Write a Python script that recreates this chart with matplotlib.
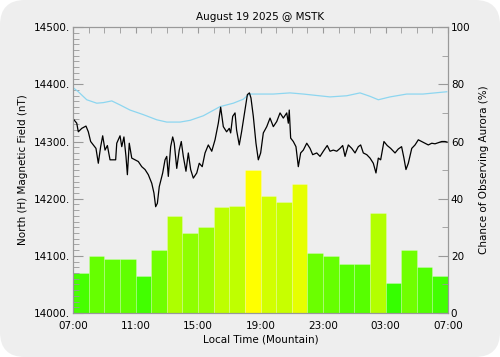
import numpy as np
import matplotlib
matplotlib.use("Agg")
import matplotlib.pyplot as plt
from matplotlib.patches import FancyBboxPatch
from matplotlib.ticker import MultipleLocator

# Donnees (heures depuis 07:00 locale)
aurora_pct = [14, 20, 19, 19, 13, 22, 34, 28, 30, 37, 37.5, 50,
              41, 39, 45, 21, 20, 17, 17, 35, 10.5, 22, 16, 13]

mag_hours = [0.06, 0.24, 0.34, 0.56, 0.83, 0.98, 1.13, 1.30, 1.47, 1.62, 1.77, 1.90,
             2.05, 2.20, 2.37, 2.73, 2.80, 3.01, 3.12, 3.26, 3.39, 3.48, 3.60, 3.76,
             3.97, 4.18, 4.40, 4.61, 4.82, 5.04, 5.18, 5.29, 5.40, 5.52, 5.74, 5.89,
             6.00, 6.10, 6.25, 6.38, 6.48, 6.64, 6.80, 6.93, 7.06, 7.23, 7.38, 7.53,
             7.70, 7.92, 8.08, 8.27, 8.45, 8.66, 8.88, 9.09, 9.30, 9.45, 9.62, 9.83,
             10.00, 10.09, 10.22, 10.37, 10.47, 10.64, 10.79, 11.01, 11.16, 11.29, 11.39, 11.54,
             11.71, 11.86, 12.01, 12.18, 12.40, 12.61, 12.82, 13.04, 13.25, 13.46, 13.68, 13.78,
             13.84, 13.93, 14.10, 14.27, 14.42, 14.57, 14.74, 14.96, 15.17, 15.34, 15.60, 15.81,
             16.02, 16.27, 16.45, 16.66, 16.88, 17.09, 17.26, 17.41, 17.62, 17.84, 18.05, 18.26,
             18.41, 18.58, 18.80, 19.01, 19.22, 19.39, 19.54, 19.69, 19.90, 20.11, 20.33, 20.61,
             20.82, 21.03, 21.18, 21.31, 21.46, 21.68, 21.89, 22.10, 22.31, 22.53, 22.74, 22.96,
             23.17, 23.38, 23.60, 23.81, 23.94]
mag_nt = [14338, 14332, 14317, 14323, 14327, 14317, 14300, 14294, 14288, 14262, 14291, 14310,
          14285, 14293, 14268, 14268, 14297, 14310, 14291, 14308, 14274, 14242, 14297, 14271,
          14268, 14265, 14256, 14251, 14242, 14227, 14210, 14186, 14192, 14221, 14245, 14268,
          14274, 14239, 14291, 14308, 14297, 14253, 14285, 14300, 14274, 14248, 14280, 14251,
          14236, 14245, 14262, 14256, 14280, 14294, 14283, 14303, 14332, 14360, 14326, 14317,
          14323, 14315, 14344, 14350, 14320, 14294, 14317, 14355, 14382, 14385, 14376, 14344,
          14297, 14268, 14280, 14315, 14326, 14341, 14326, 14335, 14350, 14341, 14350, 14332,
          14355, 14306, 14300, 14291, 14256, 14280, 14285, 14297, 14288, 14277, 14280, 14274,
          14283, 14293, 14283, 14285, 14283, 14288, 14293, 14274, 14294, 14288, 14280, 14291,
          14294, 14280, 14277, 14271, 14262, 14245, 14271, 14268, 14300, 14293, 14288, 14280,
          14287, 14291, 14271, 14251, 14262, 14288, 14294, 14303, 14300, 14297, 14294, 14297,
          14296, 14298, 14300, 14300, 14299]

base_hours = [0.06, 0.34, 0.88, 1.52, 1.94, 2.48, 3.01, 3.65, 4.50, 5.36, 6.00, 6.85,
              7.49, 8.34, 9.41, 10.26, 10.90, 11.28, 11.76, 12.82, 13.89, 14.74, 15.76, 16.45,
              17.52, 18.37, 19.01, 19.54, 20.29, 21.36, 22.40, 23.92]
base_nt = [14393, 14387, 14373, 14367, 14368, 14371, 14364, 14355, 14347, 14338, 14334, 14334,
           14337, 14345, 14361, 14367, 14374, 14383, 14383, 14383, 14385, 14383, 14380, 14378,
           14380, 14385, 14379, 14373, 14378, 14383, 14383, 14387]

xtick_pos = [0, 4, 8, 12, 16, 20, 24]
xtick_lab = ['07:00', '11:00', '15:00', '19:00', '23:00', '03:00', '07:00']

plt.rcParams['font.family'] = 'DejaVu Sans'
fs = 7.5
bg = '#eeeeee'
spine_col = '#999999'

fig = plt.figure(figsize=(5.0, 3.57), dpi=100)
fig.patch.set_facecolor('white')
fig.patches.append(FancyBboxPatch((0.0, 0.0), 1.0, 1.0,
                                  boxstyle='round,pad=0,rounding_size=0.05',
                                  transform=fig.transFigure, facecolor=bg,
                                  edgecolor='none', zorder=-10,
                                  mutation_aspect=500 / 357))

ax = fig.add_axes([0.146, 0.123, 0.75, 0.801])
ax2 = ax.twinx()

# Barres : probabilite d'aurore (axe de droite)
colors = [(min(1.0, v / 50.0), 1.0, 0.0) for v in aurora_pct]
ax2.bar(np.arange(len(aurora_pct)), aurora_pct, width=1.0, align='edge',
        color=colors, edgecolor=(1, 1, 1, 0.25), linewidth=0.6)
ax2.set_ylim(0, 100)
ax2.set_xlim(0, 24)
ax2.yaxis.set_major_locator(MultipleLocator(20))
ax2.yaxis.set_minor_locator(MultipleLocator(10))
ax2.tick_params(axis='y', which='major', direction='in', length=7, color=spine_col,
                labelsize=fs, pad=2)
ax2.tick_params(axis='y', which='minor', direction='in', length=4, color=spine_col)
ax2.set_ylabel('Chance of Observing Aurora (%)', fontsize=fs, labelpad=6)

# Courbes : champ magnetique (axe de gauche)
ax.set_zorder(ax2.get_zorder() + 1)
ax.patch.set_visible(False)
ax2.set_facecolor(bg)
ax.plot(base_hours, base_nt, color='#8dd6f0', linewidth=0.9)
ax.plot(mag_hours, mag_nt, color='black', linewidth=0.9)
ax.set_xlim(0, 24)
ax.set_ylim(14000, 14500)
ax.yaxis.set_major_locator(MultipleLocator(100))
ax.yaxis.set_minor_locator(MultipleLocator(10))
ax.set_yticks([14000, 14100, 14200, 14300, 14400, 14500])
ax.set_yticklabels(['14000.', '14100.', '14200.', '14300.', '14400.', '14500.'])
ax.tick_params(axis='y', which='major', direction='in', length=7, color=spine_col,
               labelsize=fs, pad=2)
ax.tick_params(axis='y', which='minor', direction='in', length=4, color=spine_col)
ax.set_ylabel('North (H) Magnetic Field (nT)', fontsize=fs, labelpad=4)

ax.set_xticks(xtick_pos)
ax.set_xticklabels(xtick_lab)
ax.set_xticks(np.arange(0, 25, 1), minor=True)
ax.tick_params(axis='x', which='both', top=True, bottom=False, direction='in',
               length=4, color=spine_col, labelsize=fs, pad=6)
ax.set_xlabel('Local Time (Mountain)', fontsize=fs, labelpad=2)
ax2.tick_params(axis='x', which='both', bottom=False, top=False)

for a in (ax, ax2):
    for s in a.spines.values():
        s.set_color(spine_col)
        s.set_linewidth(0.8)

ax.set_title('August 19 2025 @ MSTK', fontsize=fs, pad=5)

fig.savefig('out.png', dpi=100, facecolor=fig.get_facecolor())
